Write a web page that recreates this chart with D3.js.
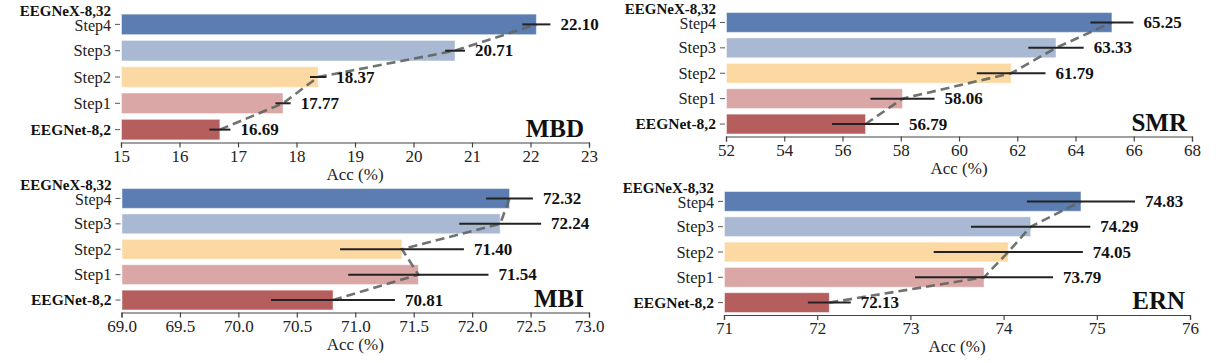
<!DOCTYPE html>
<html>
<head>
<meta charset="utf-8">
<script src="https://cdn.jsdelivr.net/npm/d3@7"></script>
<style>
  body { margin: 0; background: #fff; }
  svg { display: block; }
  text { font-family: "Liberation Serif", "Times New Roman", serif; }
  .tick text { fill: #222; }
</style>
</head>
<body>
<svg id="chart"></svg>
<script>
// categories, bottom to top
const categories = ["EEGNet-8,2", "Step1", "Step2", "Step3", "Step4"];
const barColors = ["#b55e5d", "#daa6a6", "#fcd9a2", "#a9b9d3", "#5b7db2"];

// MBD
const mbdAcc = [16.69, 17.77, 18.37, 20.71, 22.10];
const mbdErr = [0.18, 0.13, 0.14, 0.17, 0.24];
const mbdTicks = [15, 16, 17, 18, 19, 20, 21, 22, 23];

// SMR
const smrAcc = [56.79, 58.06, 61.79, 63.33, 65.25];
const smrErr = [1.15, 1.1, 1.18, 0.95, 0.74];
const smrTicks = [52, 54, 56, 58, 60, 62, 64, 66, 68];

// MBI
const mbiAcc = [70.81, 71.54, 71.40, 72.24, 72.32];
const mbiErr = [0.53, 0.6, 0.53, 0.35, 0.2];
const mbiTicks = [69.0, 69.5, 70.0, 70.5, 71.0, 71.5, 72.0, 72.5, 73.0];

// ERN
const ernAcc = [72.13, 73.79, 74.05, 74.29, 74.83];
const ernErr = [0.23, 0.74, 0.8, 0.64, 0.58];
const ernTicks = [71, 72, 73, 74, 75, 76];

const W = 1227, H = 363;
const FONT = "'Liberation Serif', 'Times New Roman', serif";

const svg = d3.select("#chart")
  .attr("width", W)
  .attr("height", H)
  .attr("font-family", FONT);

svg.append("rect").attr("width", W).attr("height", H).attr("fill", "#fff");

// Panel layouts
const panels = [
  { name: "MBD", acc: mbdAcc, err: mbdErr, ticks: mbdTicks, fmt: d3.format("d"),
    x0: 121, x1: 589, y0: 11.5, y1: 142.5 },
  { name: "SMR", acc: smrAcc, err: smrErr, ticks: smrTicks, fmt: d3.format("d"),
    x0: 726, x1: 1192, y0: 10, y1: 136.5 },
  { name: "MBI", acc: mbiAcc, err: mbiErr, ticks: mbiTicks, fmt: d3.format(".1f"),
    x0: 121.5, x1: 589, y0: 186, y1: 312.5 },
  { name: "ERN", acc: ernAcc, err: ernErr, ticks: ernTicks, fmt: d3.format("d"),
    x0: 724, x1: 1190, y0: 189, y1: 315 }
];

panels.forEach(p => {
  const data = categories.map((c, i) => ({ cat: c, v: p.acc[i], e: p.err[i], color: barColors[i] }));

  const x = d3.scaleLinear()
    .domain(d3.extent(p.ticks))
    .range([p.x0, p.x1]);

  const y = d3.scaleBand()
    .domain(categories.slice().reverse())
    .range([p.y0, p.y1])
    .paddingInner(0.22)
    .paddingOuter(0.1);

  const g = svg.append("g");

  // Bars
  g.selectAll("rect.bar")
    .data(data)
    .enter()
    .append("rect")
      .attr("class", "bar")
      .attr("x", x.range()[0] + 0.5)
      .attr("y", d => y(d.cat))
      .attr("width", d => x(d.v) - x.range()[0] - 0.5)
      .attr("height", y.bandwidth())
      .attr("fill", d => d.color)
      .attr("stroke", "#fff")
      .attr("stroke-opacity", 0.45)
      .attr("stroke-width", 1);

  // Dashed trend line through bar ends
  const line = d3.line()
    .x(d => x(d.v))
    .y(d => y(d.cat) + y.bandwidth() / 2);

  g.append("path")
    .datum(data)
    .attr("d", line)
    .attr("fill", "none")
    .attr("stroke", "#5f655f")
    .attr("stroke-opacity", 0.9)
    .attr("stroke-width", 2.6)
    .attr("stroke-dasharray", "9,5");

  // Error bars
  g.selectAll("line.err")
    .data(data)
    .enter()
    .append("line")
      .attr("class", "err")
      .attr("x1", d => x(d.v - d.e))
      .attr("x2", d => x(d.v + d.e))
      .attr("y1", d => y(d.cat) + y.bandwidth() / 2)
      .attr("y2", d => y(d.cat) + y.bandwidth() / 2)
      .attr("stroke", "#222")
      .attr("stroke-width", 2);

  // Value labels
  g.selectAll("text.val")
    .data(data)
    .enter()
    .append("text")
      .attr("class", "val")
      .attr("x", d => x(d.v + d.e) + 10)
      .attr("y", d => y(d.cat) + y.bandwidth() / 2 + 5.5)
      .attr("font-size", 17)
      .attr("font-weight", "bold")
      .attr("fill", "#111")
      .text(d => d.v.toFixed(2));

  // x axis
  const xAxis = g.append("g")
    .attr("transform", `translate(0, ${p.y1})`)
    .call(d3.axisBottom(x).tickValues(p.ticks).tickFormat(p.fmt).tickSize(5).tickPadding(2));
  xAxis.attr("font-family", FONT).attr("font-size", 17);
  xAxis.selectAll("path, line").attr("stroke", "#444").attr("stroke-width", 1.2);

  // y axis (ticks only)
  const yAxis = g.append("g")
    .attr("transform", `translate(${p.x0 - 1}, 0)`)
    .call(d3.axisLeft(y).tickSize(5).tickFormat(""));
  yAxis.select(".domain").remove();
  yAxis.selectAll("line").attr("stroke", "#555");

  // y labels
  const labelX = p.x0 - 10;
  data.forEach(d => {
    const cy = y(d.cat) + y.bandwidth() / 2;
    if (d.cat === "Step4") {
      g.append("text")
        .attr("x", labelX).attr("y", cy - 8.5)
        .attr("text-anchor", "end")
        .attr("font-size", 15).attr("font-weight", "bold").attr("fill", "#111")
        .text("EEGNeX-8,32");
      g.append("text")
        .attr("x", labelX).attr("y", cy + 7)
        .attr("text-anchor", "end")
        .attr("font-size", 16).attr("fill", "#222")
        .text(d.cat);
    } else if (d.cat === "EEGNet-8,2") {
      g.append("text")
        .attr("x", labelX).attr("y", cy + 5)
        .attr("text-anchor", "end")
        .attr("font-size", 15.5).attr("font-weight", "bold").attr("fill", "#111")
        .text(d.cat);
    } else {
      g.append("text")
        .attr("x", labelX).attr("y", cy + 5.5)
        .attr("text-anchor", "end")
        .attr("font-size", 16.5).attr("fill", "#222")
        .text(d.cat);
    }
  });

  // x axis title
  g.append("text")
    .attr("x", (p.x0 + p.x1) / 2)
    .attr("y", p.y1 + 37)
    .attr("text-anchor", "middle")
    .attr("font-size", 17)
    .attr("fill", "#222")
    .text("Acc (%)");

  // panel name
  g.append("text")
    .attr("x", p.x1 - 5)
    .attr("y", p.y1 - 6)
    .attr("text-anchor", "end")
    .attr("font-size", 25)
    .attr("font-weight", "bold")
    .attr("fill", "#111")
    .text(p.name);
});
</script>
</body>
</html>
